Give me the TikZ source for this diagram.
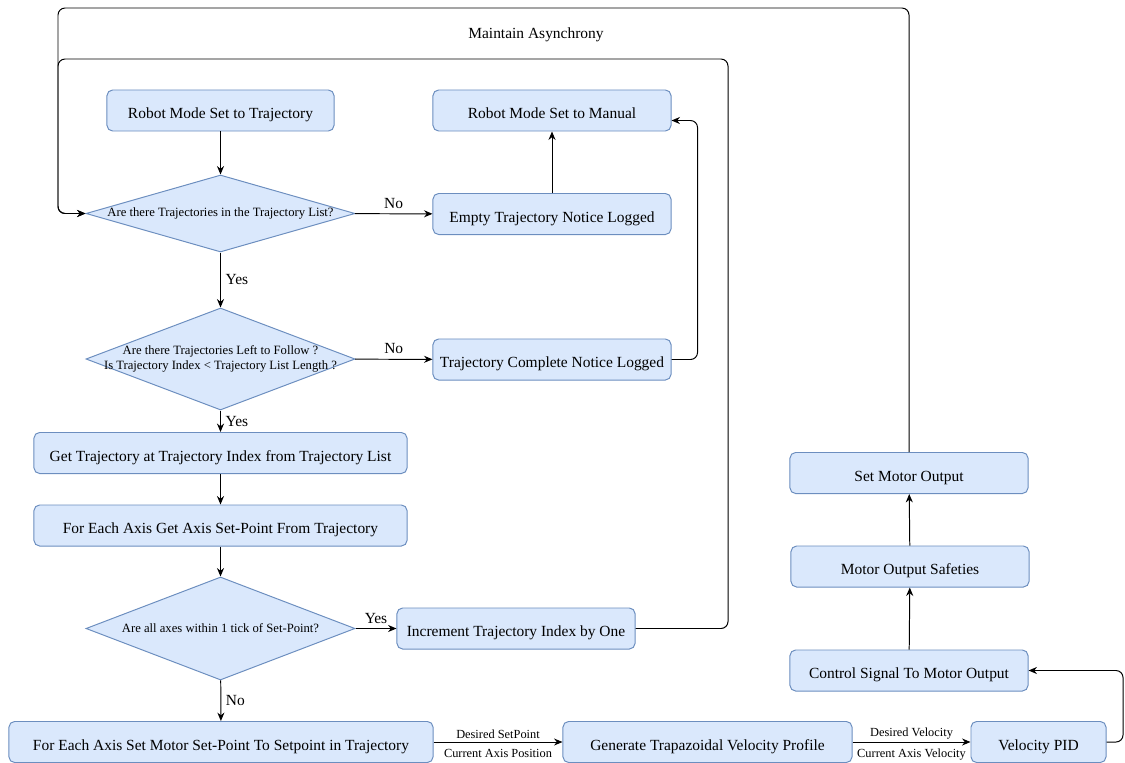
\documentclass[tikz,border=0pt]{standalone}
\usepackage{fontspec}
\setmainfont{Liberation Serif}
\usetikzlibrary{shapes.geometric,arrows.meta}
\definecolor{boxfill}{HTML}{DAE8FC}
\definecolor{boxline}{HTML}{6C8EBF}
\begin{document}
\begin{tikzpicture}[x=0.025cm, y=-0.025cm, line width=0.7pt, font=\fontsize{11}{13}\selectfont,
  stepbox/.style={rectangle,rounded corners=4pt,fill=boxfill,draw=boxline,minimum height=1.025cm,inner sep=0pt,text height=12pt,text depth=0pt},
  decision/.style={diamond,fill=boxfill,draw=boxline,minimum width=6.725cm,inner sep=0pt},
  dtext/.style={font=\fontsize{9}{10.5}\selectfont,align=center},
  elabel/.style={font=\fontsize{8.8}{10}\selectfont,inner sep=2pt},
  elabelb/.style={elabel,inner sep=4.5pt},
  arr/.style={-{Stealth[length=6pt,width=5pt]}}]
\useasboundingbox (0,0) rectangle (1125,763);
% left column
\node[stepbox,minimum width=5.675cm] (rmtraj) at (220.5,110.5) {Robot Mode Set to Trajectory};
\node[decision,minimum height=1.925cm,label={[dtext]center:Are there Trajectories in the Trajectory List?}] (d1) at (220.5,213.5) {};
\node[decision,minimum height=2.55cm,label={[dtext]center:Are there Trajectories Left to Follow ?\\Is Trajectory Index < Trajectory List Length ?}] (d2) at (220.5,359) {};
\node[stepbox,minimum width=9.325cm] (gettraj) at (220.5,453) {Get Trajectory at Trajectory Index from Trajectory List};
\node[stepbox,minimum width=9.325cm] (getsp) at (220.5,525.5) {For Each Axis Get Axis Set-Point From Trajectory};
\node[decision,minimum height=2.575cm,label={[dtext]center:Are all axes within 1 tick of Set-Point?}] (d3) at (220.5,628.5) {};
\node[stepbox,minimum width=10.6cm] (setsp) at (221,742) {For Each Axis Set Motor Set-Point To Setpoint in Trajectory};
% middle column
\node[stepbox,minimum width=5.95cm] (rmman) at (552,110.5) {Robot Mode Set to Manual};
\node[stepbox,minimum width=5.95cm] (empty) at (552,214) {Empty Trajectory Notice Logged};
\node[stepbox,minimum width=5.95cm] (complete) at (552,359.5) {Trajectory Complete Notice Logged};
\node[stepbox,minimum width=5.95cm] (incr) at (516,628.5) {Increment Trajectory Index by One};
\node[stepbox,minimum width=7.225cm] (trap) at (707.5,742) {Generate Trapazoidal Velocity Profile};
\node[stepbox,minimum width=3.375cm] (pid) at (1038.5,742) {Velocity PID};
% right column
\node[stepbox,minimum width=5.95cm] (ctrl) at (909,670.5) {Control Signal To Motor Output};
\node[stepbox,minimum width=5.95cm] (safe) at (910,566.5) {Motor Output Safeties};
\node[stepbox,minimum width=5.95cm] (setout) at (909,473) {Set Motor Output};
\node (async) at (536,35) {Maintain Asynchrony};
% loop corners
\coordinate (innerr) at (728,59);
\coordinate (innerl) at (58,59);
\coordinate (outerr) at (909,8);
\coordinate (outerl) at (58,8);
\coordinate (pidr) at (1123,705);
% connectors
\draw[arr] (rmtraj) -- (d1);
\draw[arr] (d1) -- node[above]{No} (empty);
\draw[arr] (empty) -- (rmman);
\draw[arr] (d1) -- node[right]{Yes} (d2);
\draw[arr] (d2) -- node[above]{No} (complete);
\draw[arr,rounded corners=5pt] (complete.east) -- ++(26,0) |- ([yshift=-0.25cm]rmman.east);
\draw[arr] (d2) -- node[right]{Yes} (gettraj);
\draw[arr] (gettraj) -- (getsp);
\draw[arr] (getsp) -- (d3);
\draw[arr] (d3) -- node[above]{Yes} (incr);
\draw[arr] (d3) -- node[right]{No} (setsp);
\draw[arr,rounded corners=5pt] (incr.east) -| (innerr) -- (innerl) -- (innerl |- d1.west) -- (d1.west);
\draw[arr,rounded corners=5pt] (setout.north) -- (outerr) -- (outerl) -- (outerl |- d1.west) -- (d1.west);
\draw[arr] (setsp) -- node[above,elabel]{Desired SetPoint} node[below,elabelb]{Current Axis Position} (trap);
\draw[arr] (trap) -- node[above,elabel]{Desired Velocity} node[below,elabelb]{Current Axis Velocity} (pid);
\draw[arr,rounded corners=5pt] (pid.east) -| (pidr) |- (ctrl.east);
\draw[arr] (ctrl) -- (safe);
\draw[arr] (safe) -- (setout);
\end{tikzpicture}
\end{document}
